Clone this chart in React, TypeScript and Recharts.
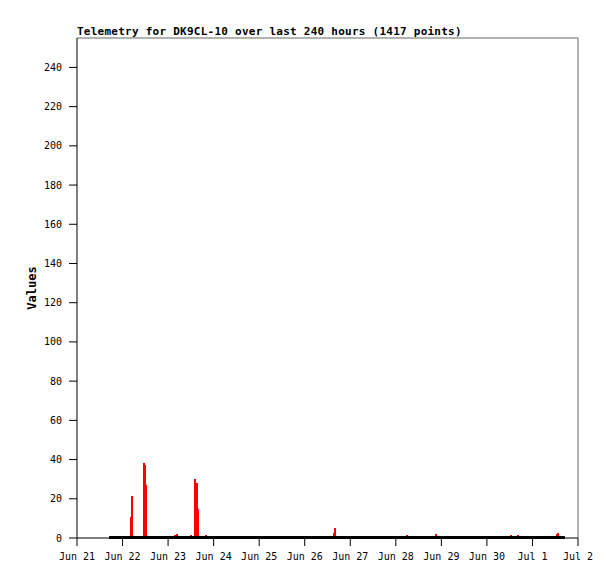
import React from 'react';
import { ComposedChart, Bar, Line, XAxis, YAxis, ReferenceLine } from 'recharts';

// hours since Jun 21 00:00
const spikeHours = [28.2, 28.9, 35.2, 36.0, 36.6, 51.9, 52.6, 60.1, 62.1, 63.1, 63.6, 67.9, 135.2, 135.9, 173.8, 189.1, 228.7, 232.4, 252.9, 253.3];
const spikeValues = [10.7, 21.4, 38.3, 37.3, 27, 1.6, 2.2, 1.6, 30.2, 28, 14.8, 1.6, 2.7, 5, 1.6, 2.2, 1.6, 1.6, 1.8, 2.4];

const baseHours = [16.9, 257.1];
const baseValues = [0.2, 0.2];

const dayTicks = [0, 24, 48, 72, 96, 120, 144, 168, 192, 216, 240, 264];
const dayLabels = ['Jun 21', 'Jun 22', 'Jun 23', 'Jun 24', 'Jun 25', 'Jun 26', 'Jun 27', 'Jun 28', 'Jun 29', 'Jun 30', 'Jul 1', 'Jul 2'];
const valueTicks = [0, 20, 40, 60, 80, 100, 120, 140, 160, 180, 200, 220, 240];

const rows = [
  ...spikeHours.map((t, i) => ({ t, red: spikeValues[i] })),
  ...baseHours.map((t, i) => ({ t, black: baseValues[i] })),
].sort((a, b) => a.t - b.t);

const tickFont = { fontFamily: '"DejaVu Sans Mono", monospace', fontSize: 10, fill: '#000' };

// impulses: fixed 2px wide, centred on the sample time
const Impulse = (p: any) => {
  if (!p.height) return null;
  const cx = p.x + p.width / 2;
  return <rect x={Math.round(cx - 1)} y={p.y} width={2} height={p.height} fill="#ff0000" shapeRendering="crispEdges" />;
};

export default function App() {
  return (
    <div style={{ position: 'absolute', left: 0, top: 0, width: 615, height: 579, background: '#fff' }}>
      <ComposedChart width={615} height={579} data={rows} margin={{ top: 38, right: 37, bottom: 11, left: 37 }}>
        <text x={77} y={35} style={{ fontFamily: '"DejaVu Sans Mono", monospace', fontSize: 11, fontWeight: 'bold', letterSpacing: 0.25 }} fill="#000">
          Telemetry for DK9CL-10 over last 240 hours (1417 points)
        </text>
        <text
          x={36}
          y={288}
          transform="rotate(-90 36 288)"
          textAnchor="middle"
          style={{ fontFamily: '"DejaVu Sans Mono", monospace', fontSize: 12, fontWeight: 'bold' }}
          fill="#000"
        >
          Values
        </text>
        <XAxis
          dataKey="t"
          type="number"
          domain={[0, 264]}
          ticks={dayTicks}
          tickFormatter={(v: number) => dayLabels[dayTicks.indexOf(v)]}
          interval={0}
          height={30}
          tickSize={8}
          tickMargin={7}
          stroke="#000"
          tick={tickFont}
        />
        <YAxis
          type="number"
          domain={[0, 255]}
          ticks={valueTicks}
          interval={0}
          width={40}
          tickSize={8}
          tickMargin={7}
          stroke="#000"
          tick={tickFont}
        />
        <ReferenceLine y={255} stroke="#666" ifOverflow="visible" />
        <ReferenceLine x={264} stroke="#666" ifOverflow="visible" />
        <Line dataKey="black" stroke="#000" strokeWidth={3} dot={false} connectNulls isAnimationActive={false} />
        <Bar dataKey="red" fill="#ff0000" shape={Impulse} isAnimationActive={false} />
      </ComposedChart>
    </div>
  );
}
